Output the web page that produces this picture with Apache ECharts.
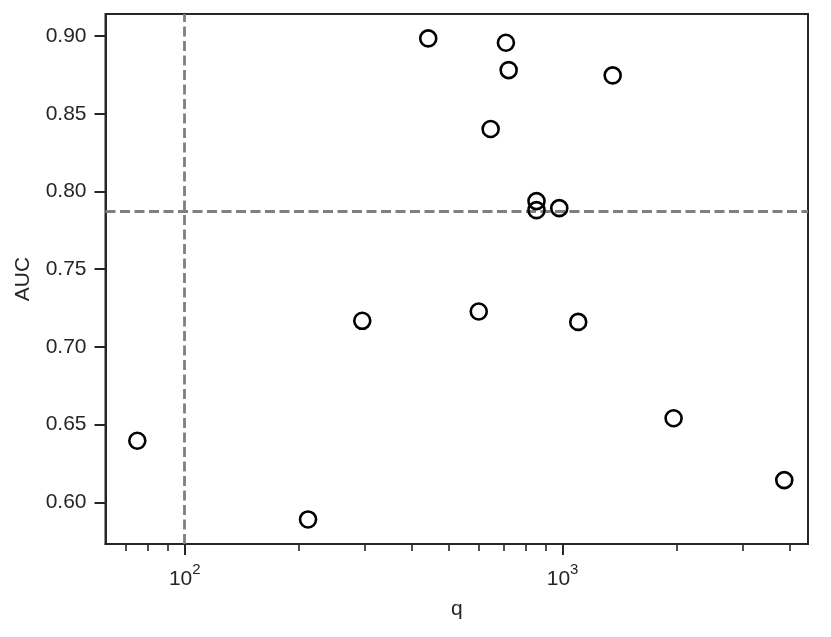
<!DOCTYPE html>
<html>
<head>
<meta charset="utf-8">
<script src="https://cdn.jsdelivr.net/npm/echarts@6/dist/echarts.min.js"></script>
<style>
  html, body {margin: 0; padding: 0; background: #fff;}
  #chart {width: 831px; height: 637px;}
</style>
</head>
<body>
<div id="chart"></div>
<script>
// q (log scale) and AUC per run
const qValues   = [74.9, 212, 295, 600, 1100, 441, 708, 720, 1357, 645, 853, 853, 980, 1967, 3861];
const aucValues = [0.6396, 0.589, 0.7168, 0.7228, 0.7161, 0.8985, 0.8957, 0.8781, 0.8747, 0.8402, 0.7938, 0.788, 0.7893, 0.6541, 0.6143];

const refQ = 100;
const refAuc = 0.7874;

const xMajorTicks = [100, 1000];
const xMinorTicks = [70, 80, 90, 200, 300, 400, 500, 600, 700, 800, 900, 2000, 3000, 4000];
const yTicks = [0.60, 0.65, 0.70, 0.75, 0.80, 0.85, 0.90];

const ink = '#262626';
const font = '"Liberation Sans", Arial, sans-serif';
const xMin = 61.7, xMax = 4462;

const points = qValues.map((q, i) => [q, aucValues[i]]);

const chart = echarts.init(document.getElementById('chart'));
chart.setOption({
    animation: false,
    grid: {
        left: 105.5, right: 23, top: 14, bottom: 93,
        show: true, borderColor: ink, borderWidth: 2, backgroundColor: 'transparent'
    },
    xAxis: [
        {
            type: 'log', logBase: 10, min: xMin, max: xMax,
            name: 'q', nameLocation: 'middle', nameGap: 55,
            nameTextStyle: {fontSize: 21, color: ink, fontFamily: font},
            axisLine: {show: true, lineStyle: {color: ink, width: 2}},
            axisTick: {show: true, inside: false, length: 11, customValues: xMajorTicks,
                lineStyle: {color: ink, width: 2}},
            axisLabel: {
                customValues: xMajorTicks, margin: 13, color: ink, fontFamily: font,
                formatter: v => '{b|10}{s|' + Math.round(Math.log10(v)) + '}',
                rich: {
                    b: {fontSize: 21, color: ink, fontFamily: font, padding: [12, 0, 0, 0]},
                    s: {fontSize: 15, color: ink, fontFamily: font, padding: [0, 0, 8, 0]}
                }
            },
            splitLine: {show: false}
        },
        {
            type: 'log', logBase: 10, min: xMin, max: xMax, position: 'bottom',
            axisLine: {show: false},
            axisTick: {show: true, inside: false, length: 7, customValues: xMinorTicks,
                lineStyle: {color: ink, width: 1.6}},
            axisLabel: {show: false},
            splitLine: {show: false}
        }
    ],
    yAxis: {
        type: 'value', min: 0.5732, max: 0.9142,
        name: 'AUC', nameLocation: 'middle', nameGap: 72,
        nameTextStyle: {fontSize: 21, color: ink, fontFamily: font},
        axisLine: {show: true, lineStyle: {color: ink, width: 2}},
        axisTick: {show: true, inside: false, length: 11, customValues: yTicks,
            lineStyle: {color: ink, width: 2}},
        axisLabel: {customValues: yTicks, margin: 19, fontSize: 21, color: ink, fontFamily: font,
            formatter: v => v.toFixed(2)},
        splitLine: {show: false}
    },
    series: [{
        type: 'scatter',
        xAxisIndex: 0,
        data: points,
        symbol: 'circle',
        symbolSize: 16,
        itemStyle: {color: 'rgba(0,0,0,0)', borderColor: '#000', borderWidth: 2.6, opacity: 1},
        z: 3,
        markLine: {
            silent: true, symbol: 'none', z: 2, precision: 4,
            label: {show: false},
            lineStyle: {color: '#7f7f7f', type: [10, 4.5], width: 2.8, opacity: 1},
            data: [{xAxis: refQ}, {yAxis: refAuc}]
        }
    }]
});
</script>
</body>
</html>
